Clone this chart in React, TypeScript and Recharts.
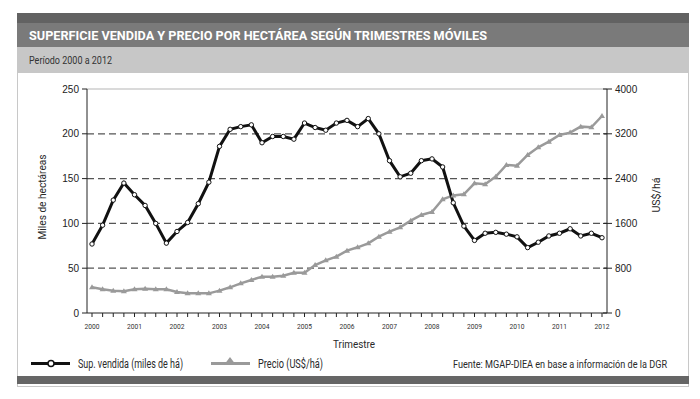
import { LineChart, Line, XAxis, YAxis, ReferenceLine } from "recharts"

// years shown on the x axis, data is quarterly (moving quarters)
const years = ["2000", "2001", "2002", "2003", "2004", "2005", "2006", "2007", "2008", "2009", "2010", "2011", "2012"]

// Sup. vendida (miles de há)
const superficie = [
  77, 98, 126, 145, 132, 120, 100, 78, 91, 101, 122, 146,
  186, 205, 208, 210, 190, 197, 197, 194, 212, 207, 204, 212,
  215, 208, 217, 200, 170, 152, 156, 170, 172, 163, 123, 97,
  81, 89, 90, 88, 85, 73, 79, 86, 89, 94, 86, 89,
  84,
]

// Precio (US$/há)
const precio = [
  459, 423, 399, 387, 423, 435, 423, 423, 375, 351, 351, 351,
  399, 459, 530, 589, 649, 649, 667, 720, 720, 857, 940, 1006,
  1113, 1173, 1244, 1363, 1452, 1530, 1649, 1750, 1804, 2030, 2100, 2119,
  2316, 2300, 2435, 2643, 2631, 2822, 2959, 3060, 3179, 3221, 3328, 3316,
  3518,
]

const leftTicks = [0, 50, 100, 150, 200, 250]
const rightTicks = [0, 400, 800, 1200, 1600, 2000, 2400, 2800, 3200, 3600, 4000]
const gridValues = [50, 100, 150, 200]

// category labels: year at first quarter, "year Tn" for the rest
const quarters: string[] = []
years.forEach((y, i) => {
  quarters.push(y)
  if (i < years.length - 1) {
    quarters.push(y + " T2", y + " T3", y + " T4")
  }
})

const data = quarters.map((q, i) => ({ q, sup: superficie[i], precio: precio[i] }))

// no condensed font installed, so text is squeezed to the reference widths with textLength
const FONT = "Roboto, 'Liberation Sans', sans-serif"
const SANS = "'Liberation Sans', Arial, sans-serif"

function T(props: any) {
  const { x, y, w, size, children, anchor, fill, weight, rotate } = props
  return (
    <text
      x={x}
      y={y}
      fontSize={size}
      fontFamily={FONT}
      fontWeight={weight || "normal"}
      fill={fill || "#2a2a2a"}
      textAnchor={anchor || "start"}
      textLength={w}
      lengthAdjust="spacingAndGlyphs"
      transform={rotate ? `rotate(-90 ${x} ${y})` : undefined}
    >
      {children}
    </text>
  )
}

function XTick(props: any) {
  const { x, y, payload } = props
  if (!years.includes(payload.value)) return null
  return (
    <text
      x={x}
      y={y}
      dy="0.71em"
      textAnchor="middle"
      fontSize={8}
      fill="#333"
      fontFamily={FONT}
      textLength={15}
      lengthAdjust="spacingAndGlyphs"
    >
      {payload.value}
    </text>
  )
}

function RightTick(props: any) {
  const { x, y, payload } = props
  const ax = x - 8
  return (
    <g>
      <line x1={ax - 4} x2={ax + 5} y1={y} y2={y} stroke="#222" />
      <text x={x} y={y} dy="0.355em" fontSize={10} fill="#222" fontFamily={SANS}>
        {payload.value}
      </text>
    </g>
  )
}

function SupDot(props: any) {
  const { cx, cy, index } = props
  return <circle key={"s" + index} cx={cx} cy={cy} r={2.2} fill="#fff" stroke="#111" strokeWidth={1} />
}

function PrecioDot(props: any) {
  const { cx, cy, index } = props
  return (
    <polygon
      key={"p" + index}
      points={`${cx},${cy - 3} ${cx + 3},${cy + 2} ${cx - 3},${cy + 2}`}
      fill="#9a9a9a"
    />
  )
}

export default function App() {
  return (
    <div style={{ position: "absolute", left: 0, top: 0, width: 700, height: 399, background: "#fff" }}>
      {/* frame */}
      <div style={{ position: "absolute", left: 17, top: 13, width: 670, height: 372, border: "1px solid #c8c8c8" }} />
      <div style={{ position: "absolute", left: 17, top: 13, width: 672, height: 10, background: "#626262" }} />
      <div style={{ position: "absolute", left: 17, top: 23, width: 672, height: 24, background: "#7a7a7a" }} />
      <div style={{ position: "absolute", left: 17, top: 47, width: 672, height: 26, background: "#c7c7c7" }} />
      <div style={{ position: "absolute", left: 17, top: 376, width: 672, height: 8, background: "#666" }} />

      <LineChart
        width={700}
        height={399}
        data={data}
        margin={{ top: 89, right: 0, bottom: 0, left: 0 }}
        style={{ position: "absolute", left: 0, top: 0 }}
      >
        <XAxis
          dataKey="q"
          interval={0}
          height={86}
          padding={{ left: 5, right: 5 }}
          tickSize={4}
          tickMargin={6}
          tick={<XTick />}
          axisLine={{ stroke: "#222" }}
          tickLine={{ stroke: "#222" }}
        />
        <YAxis
          yAxisId="left"
          orientation="left"
          width={87}
          domain={[0, 250]}
          ticks={leftTicks}
          tickSize={5}
          tickMargin={3}
          tick={{ fontSize: 10, fill: "#222", fontFamily: SANS }}
          axisLine={{ stroke: "#222" }}
          tickLine={{ stroke: "#222" }}
        />
        <YAxis
          yAxisId="right"
          orientation="right"
          width={93}
          domain={[0, 4000]}
          ticks={rightTicks}
          tickSize={5}
          tickMargin={3}
          tickLine={false}
          tick={<RightTick />}
          axisLine={{ stroke: "#222" }}
        />
        <ReferenceLine yAxisId="left" y={250} stroke="#b5b5b5" strokeWidth={1} />
        {gridValues.map((v) => (
          <ReferenceLine key={v} yAxisId="left" y={v} stroke="#555" strokeWidth={1.3} strokeDasharray="7 4" />
        ))}
        <Line
          yAxisId="right"
          dataKey="precio"
          stroke="#9a9a9a"
          strokeWidth={2.5}
          dot={PrecioDot}
          isAnimationActive={false}
        />
        <Line
          yAxisId="left"
          dataKey="sup"
          stroke="#111"
          strokeWidth={3}
          dot={SupDot}
          isAnimationActive={false}
        />
      </LineChart>

      {/* titles, axis titles and legend */}
      <svg width={700} height={399} style={{ position: "absolute", left: 0, top: 0, pointerEvents: "none" }}>
        <T x={29} y={40} w={458} size={13} weight="bold" fill="#fff">
          SUPERFICIE VENDIDA Y PRECIO POR HECTÁREA SEGÚN TRIMESTRES MÓVILES
        </T>
        <T x={29} y={64} w={83} size={11} fill="#333">
          Período 2000 a 2012
        </T>
        <T x={46} y={197} w={85} size={11} anchor="middle" rotate>
          Miles de hectáreas
        </T>
        <T x={660} y={195} w={35} size={11} anchor="middle" rotate>
          US$/há
        </T>
        <T x={354} y={348} w={42} size={11} anchor="middle">
          Trimestre
        </T>

        <line x1={31} x2={70} y1={363.5} y2={363.5} stroke="#111" strokeWidth={3} />
        <circle cx={51} cy={363.5} r={3} fill="#fff" stroke="#111" strokeWidth={1.5} />
        <T x={78} y={368} w={105} size={12}>
          Sup. vendida (miles de há)
        </T>
        <line x1={211} x2={250} y1={363.5} y2={363.5} stroke="#9a9a9a" strokeWidth={3} />
        <polygon points="230,357 236,365 224,365" fill="#9a9a9a" />
        <T x={258} y={368} w={65} size={12}>
          Precio (US$/há)
        </T>
        <T x={453} y={367.5} w={214} size={10.5}>
          Fuente: MGAP-DIEA en base a información de la DGR
        </T>
      </svg>
    </div>
  )
}
